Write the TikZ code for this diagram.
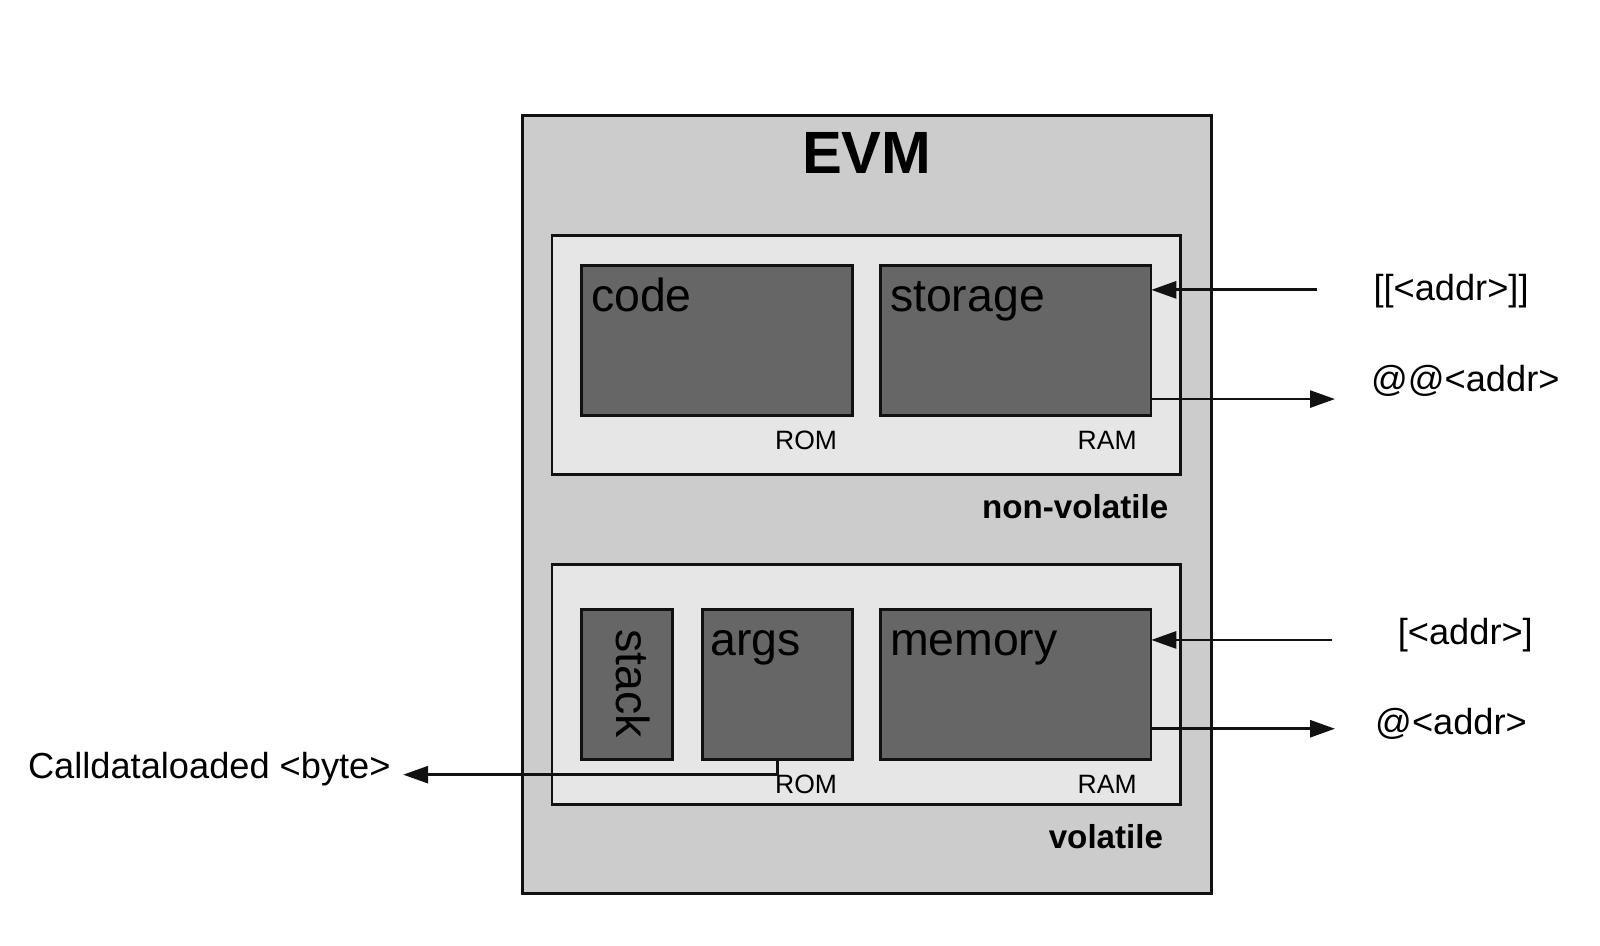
\documentclass[tikz,border=0pt]{standalone}
\usepackage{fontspec}
\setmainfont{Liberation Sans}
\usetikzlibrary{arrows.meta}
\definecolor{outerfill}{HTML}{CCCCCC}
\definecolor{innerfill}{HTML}{E6E6E6}
\definecolor{darkfill}{HTML}{666666}
\definecolor{edge}{HTML}{111111}
\newcommand{\fs}[1]{\fontsize{#1}{#1}\selectfont}
\begin{document}
\begin{tikzpicture}[x=1pt,y=-1pt,scale=1.0204,every node/.append style={transform shape},
  frame/.style={draw=edge,line width=2.9pt,inner sep=0pt,outer sep=0pt},
  outerbox/.style={frame,fill=outerfill},
  groupbox/.style={frame,fill=innerfill},
  membox/.style={frame,fill=darkfill},
  boxlabel/.style={inner sep=0pt,anchor=base west,font=\fs{45.5}},
  kindlabel/.style={inner sep=0pt,font=\fs{26}},
  grouplabel/.style={inner sep=0pt,anchor=base east,font=\fs{32.5}\bfseries},
  extlabel/.style={inner sep=0pt,font=\fs{35.5}},
  arr/.style={draw=edge,line width=2.8pt,-{Triangle[length=25pt,width=17pt]}}
]
\useasboundingbox (0,0) rectangle (1568,927);
% outer EVM
\node[outerbox,minimum width=675pt,minimum height=763pt] (evm) at (849.5,494.5) {};
\node[inner sep=0pt,font=\fs{58.5}\bfseries] (title) at (849.5,150) {EVM};
% non-volatile group
\node[groupbox,minimum width=616pt,minimum height=234pt] (nv) at (849,348) {};
\node[membox,minimum width=265pt,minimum height=147pt] (code) at (702.5,333.5) {};
\node[membox,minimum width=265pt,minimum height=147pt] (storage) at (995.5,333.5) {};
\node[boxlabel] (codet) at (579,305) {code};
\node[boxlabel] (storaget) at (872,305) {storage};
\node[kindlabel] (rom1) at (790,432) {ROM};
\node[kindlabel] (ram1) at (1085,432) {RAM};
\node[grouplabel] (nvl) at (1145,508) {non-volatile};
% volatile group
\node[groupbox,minimum width=616pt,minimum height=235pt] (vol) at (849,670.5) {};
\node[membox,minimum width=89pt,minimum height=147pt] (stack) at (614.5,670.5) {};
\node[membox,minimum width=147pt,minimum height=147pt] (args) at (761.5,670.5) {};
\node[membox,minimum width=265pt,minimum height=147pt] (memory) at (995.5,670.5) {};
\node[inner sep=0pt,rotate=-90,font=\fs{45.5}] (stackt) at (620,670) {stack};
\node[boxlabel] (argst) at (696,642) {args};
\node[boxlabel] (memoryt) at (872,642) {memory};
\node[kindlabel] (rom2) at (790,769) {ROM};
\node[kindlabel] (ram2) at (1085,769) {RAM};
\node[grouplabel] (voll) at (1140,832) {volatile};
% external labels
\node[extlabel] (sread) at (1422,285) {[[<addr>]]};
\node[extlabel] (swrite) at (1436,373) {@@<addr>};
\node[extlabel] (mread) at (1436,622) {[<addr>]};
\node[extlabel] (mwrite) at (1422,709) {@<addr>};
\node[extlabel,anchor=east] (cdl) at (383,754) {Calldataloaded <byte>};
% connectors
\coordinate (sin) at (1290,284);
\coordinate (sout) at (1308,391);
\coordinate (min) at (1305,627);
\coordinate (mout) at (1308,714);
\coordinate (cdend) at (395,759);
\coordinate (cdsrc) at (762,744);
\draw[arr] (sin) -- (sin -| storage.east);
\draw[arr] (sout -| storage.east) -- (sout);
\draw[arr] (min) -- (min -| memory.east);
\draw[arr] (mout -| memory.east) -- (mout);
\draw[arr] (cdsrc) |- (cdend);
\end{tikzpicture}
\end{document}
